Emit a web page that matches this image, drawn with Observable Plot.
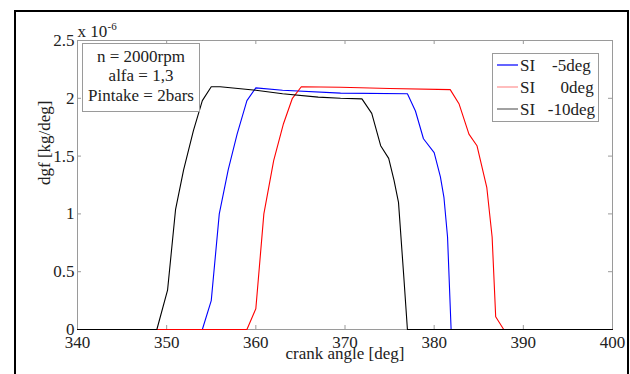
<!DOCTYPE html>
<html><head><meta charset="utf-8">
<script src="https://cdn.jsdelivr.net/npm/d3@7"></script>
<script src="https://cdn.jsdelivr.net/npm/@observablehq/plot@0.6"></script>
<style>
html,body{margin:0;padding:0;background:#fff;overflow:hidden;}
#wrap{position:relative;width:630px;height:374px;overflow:hidden;}
#chart{position:absolute;left:0;top:0;}
#border{position:absolute;left:14px;top:10px;width:615px;height:420px;border:2px solid #000;box-sizing:border-box;pointer-events:none;}
#chart text{font-family:"Liberation Serif","Times New Roman",serif;}
</style></head>
<body><div id="wrap"><div id="chart"></div><div id="border"></div></div>
<script>
// ---- data ----
const xTicks = [340, 350, 360, 370, 380, 390, 400];
const yTicks = [0, 0.5, 1, 1.5, 2, 2.5];

const seriesNames = ["SI    -5deg", "SI      0deg", "SI   -10deg"];
const seriesColors = ["#0000ff", "#ff0000", "#000000"];
const legendSwatch = ["#1010ff", "#ff9a9a", "#6e6e6e"];

// SI -5deg (blue)
const blueAngle = [340, 354.0, 355.0, 355.9, 356.9, 357.9, 359.0, 360.0, 363.0, 369.5, 377.0, 377.9, 378.8, 380.0, 380.7, 381.1, 381.5, 381.9, 400];
const blueValue = [0, 0, 0.25, 1.0, 1.38, 1.69, 1.98, 2.09, 2.07, 2.045, 2.04, 1.89, 1.65, 1.53, 1.32, 1.14, 0.80, 0, 0];
// SI 0deg (red)
const redAngle = [340, 359.0, 360.0, 360.9, 362.0, 363.1, 364.1, 365.1, 369.5, 375.0, 381.8, 382.8, 383.9, 384.8, 385.9, 386.5, 386.9, 387.8, 400];
const redValue = [0, 0, 0.18, 1.0, 1.46, 1.78, 2.0, 2.10, 2.095, 2.085, 2.075, 1.95, 1.69, 1.59, 1.23, 0.80, 0.11, 0, 0];
// SI -10deg (black)
const blackAngle = [340, 348.9, 350.1, 351.0, 351.9, 353.0, 354.0, 355.0, 356.0, 360.0, 363.0, 367.0, 369.5, 371.9, 373.0, 374.0, 374.9, 375.5, 376.0, 376.6, 377.0, 400];
const blackValue = [0, 0, 0.34, 1.04, 1.38, 1.72, 1.98, 2.10, 2.10, 2.07, 2.04, 2.01, 2.0, 1.995, 1.87, 1.59, 1.48, 1.29, 1.10, 0.45, 0, 0];

const annotationLines = ["n = 2000rpm", "alfa = 1,3", "Pintake = 2bars"];
const xLabel = "crank angle [deg]";
const yLabel = "dgf [kg/deg]";
const scaleLabel = "x 10";
const scaleExp = "-6";

// ---- build table ----
const series = [
  {name: seriesNames[0], angle: blueAngle, value: blueValue},
  {name: seriesNames[1], angle: redAngle, value: redValue},
  {name: seriesNames[2], angle: blackAngle, value: blackValue}
];
const rows = [];
series.forEach(s => s.angle.forEach((a, i) => rows.push({series: s.name, angle: a, value: s.value[i]})));

// ---- layout ----
const W = 630, H = 374, mL = 77, mR = 18, mT = 40, mB = 45;
const fw = W - mL - mR, fh = H - mT - mB;
const tickLen = 4;
const font = "Liberation Serif";
const txt = "#222";
const frameGray = "#9a9a9a";

function annotationBox() {
  const g = d3.create("svg:g").attr("font-family", font).attr("font-size", 17).attr("fill", txt);
  g.append("rect").attr("x", mL + 5.5).attr("y", mT + 3.5).attr("width", 117).attr("height", 68)
    .attr("fill", "#fff").attr("stroke", frameGray);
  annotationLines.forEach((t, i) => {
    g.append("text").attr("x", mL + 64).attr("y", mT + 16 + i * 19.5).attr("dy", "0.35em")
      .attr("text-anchor", "middle").style("white-space", "pre").text(t);
  });
  return g.node();
}

function legendBox() {
  const g = d3.create("svg:g").attr("font-family", font).attr("font-size", 17).attr("fill", txt);
  g.append("rect").attr("x", 492.5).attr("y", 53.5).attr("width", 106).attr("height", 68)
    .attr("fill", "#fff").attr("stroke", frameGray);
  seriesNames.forEach((n, i) => {
    const y = 65 + i * 22;
    g.append("line").attr("x1", 497).attr("x2", 518).attr("y1", y).attr("y2", y)
      .attr("stroke", legendSwatch[i]).attr("stroke-width", 1.3);
    g.append("text").attr("x", 520).attr("y", y).attr("dy", "0.35em")
      .attr("text-anchor", "start").style("white-space", "pre").text(n);
  });
  return g.node();
}

const chart = Plot.plot({
  width: W, height: H,
  marginLeft: mL, marginRight: mR, marginTop: mT, marginBottom: mB,
  style: {fontFamily: font, fontSize: "17px", color: txt, background: "#fff"},
  x: {domain: [340, 400]},
  y: {domain: [0, 2.5]},
  color: {domain: seriesNames, range: seriesColors},
  marks: [
    Plot.frame({stroke: frameGray}),
    Plot.tickX(xTicks, {x: d => d, stroke: frameGray, insetTop: fh - tickLen}),
    Plot.tickX(xTicks, {x: d => d, stroke: frameGray, insetBottom: fh - tickLen}),
    Plot.tickY(yTicks, {y: d => d, stroke: frameGray, insetRight: fw - tickLen}),
    Plot.tickY(yTicks, {y: d => d, stroke: frameGray, insetLeft: fw - tickLen}),
    Plot.axisX({ticks: xTicks, tickSize: 0, tickPadding: 6, label: null, fontSize: 17, fontFamily: font, fontVariant: "normal", fill: txt, tickFormat: d => String(d)}),
    Plot.axisY({ticks: yTicks, tickSize: 0, tickPadding: 3, label: null, fontSize: 17, fontFamily: font, fontVariant: "normal", fill: txt, tickFormat: d => String(d)}),
    Plot.line(rows, {x: "angle", y: "value", z: "series", stroke: "series", strokeWidth: 1.1}),
    Plot.text([xLabel], {frameAnchor: "bottom", dy: 29, fontSize: 17, fontFamily: font, fill: txt}),
    Plot.text([yLabel], {frameAnchor: "left", dx: -33, rotate: -90, fontSize: 17, fontFamily: font, fill: txt}),
    Plot.text([scaleLabel], {frameAnchor: "top-left", textAnchor: "start", lineAnchor: "bottom", dy: -4, fontSize: 17, fontFamily: font, fill: txt}),
    Plot.text([scaleExp], {frameAnchor: "top-left", textAnchor: "start", lineAnchor: "bottom", dx: 30, dy: -11, fontSize: 11, fontFamily: font, fill: txt}),
    annotationBox,
    legendBox
  ]
});
document.getElementById("chart").appendChild(chart);
</script>
</body></html>
